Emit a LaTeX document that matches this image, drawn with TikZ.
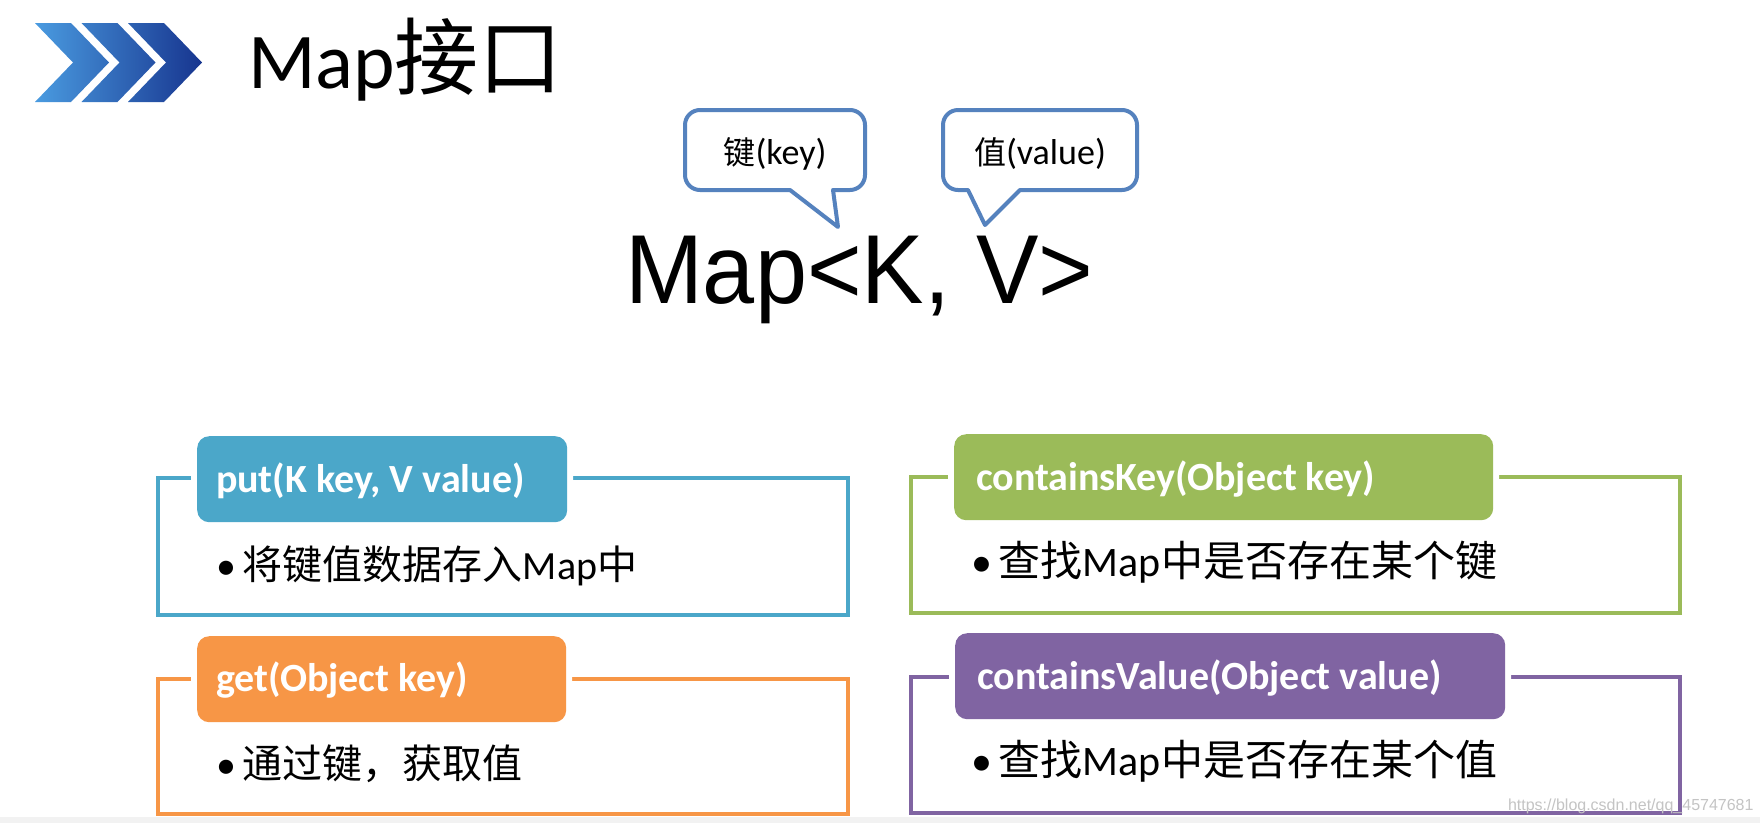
\documentclass[tikz,border=0pt]{standalone}
\usepackage{fontspec}
\usepackage{graphicx}
\setmainfont{Carlito}
\newfontfamily\cjk{Noto Sans CJK SC}
\newfontfamily\arialf{Liberation Sans}
\definecolor{chevL}{HTML}{4A9BE0}
\definecolor{chevR}{HTML}{17358F}
\definecolor{callC}{HTML}{5582BE}
\definecolor{blueC}{HTML}{4BA7C9}
\definecolor{orangeC}{HTML}{F79646}
\definecolor{greenC}{HTML}{9BBB59}
\definecolor{purpleC}{HTML}{8064A2}
\definecolor{markC}{HTML}{C4C4C4}
\tikzset{
  txt/.style={inner sep=0pt, outer sep=0pt},
  callout/.style={draw=callC, line width=4pt, fill=white, line join=round},
  frame/.style={line width=4.5pt},
  headbox/.style={rounded corners=12pt, minimum width=#1, minimum height=86pt, anchor=north west, inner sep=0pt,
     preaction={draw=white, line width=12pt}},
  headtxt/.style={txt, anchor=base west, text=white, font=\bfseries\fontsize{40}{40}\selectfont},
  bodytxt/.style={txt, anchor=base west, text=black}
}
\begin{document}
\begin{tikzpicture}[x=1pt,y=-1pt]
\useasboundingbox (0,0) rectangle (1760,823);
\fill[white] (0,0) rectangle (1760,823);
\fill[black!5] (0,817) rectangle (1760,823);

% chevrons
\shade[left color=chevL, right color=chevR]
  (35,23) -- (71,23) -- (109,62.5) -- (71,102) -- (35,102) -- (73,62.5) -- cycle
  (81.5,23) -- (117.5,23) -- (155.5,62.5) -- (117.5,102) -- (81.5,102) -- (119.5,62.5) -- cycle
  (128,23) -- (164,23) -- (202,62.5) -- (164,102) -- (128,102) -- (166,62.5) -- cycle;

% title
\node[txt, anchor=base west, font=\fontsize{79}{79}\selectfont] (title) at (248,88) {Map{\cjk\fontsize{84}{84}\selectfont 接口}};

% callouts
\draw[callout] (776,110) [rounded corners=15pt] -- (865,110) -- (865,190) [sharp corners] -- (833,190) -- (838,227) -- (790,190) [rounded corners=15pt] -- (685,190) -- (685,110) [sharp corners] -- cycle;
\draw[callout] (1040,110) [rounded corners=15pt] -- (1137,110) -- (1137,190) [sharp corners] -- (1020,190) -- (985,225) -- (968,190) [rounded corners=15pt] -- (943,190) -- (943,110) [sharp corners] -- cycle;
\node[txt, font=\fontsize{36}{36}\selectfont] (keytxt) at (775,154) {{\cjk\fontsize{32}{32}\selectfont 键}(key)};
\node[txt, font=\fontsize{36}{36}\selectfont] (valtxt) at (1040,154) {{\cjk\fontsize{32}{32}\selectfont 值}(value)};

% signature
\node[txt, anchor=base west, font=\arialf\fontsize{98}{98}\selectfont] (sig) at (625,303) {\scalebox{0.955}[1]{Map<K, V>}};

% put box
\draw[frame, draw=blueC] (158,478) rectangle (848,615);
\node[headbox=370pt, fill=blueC] (puthead) at (197,436) {};
\node[headtxt] (putlbl) at (216,492) {put(K key, V value)};
\node[bodytxt, font=\fontsize{40}{40}\selectfont] (putbody) at (216,579) {\textbullet\hspace{7pt}{\cjk 将键值数据存入}Map{\cjk 中}};

% get box
\draw[frame, draw=orangeC] (158,679) rectangle (848,814);
\node[headbox=369pt, fill=orangeC] (gethead) at (197,636) {};
\node[headtxt] (getlbl) at (216,691) {get(Object key)};
\node[bodytxt, font=\fontsize{40}{40}\selectfont] (getbody) at (216,778) {\textbullet\hspace{7pt}{\cjk 通过键，获取值}};

% containsKey box
\draw[frame, draw=greenC] (911,477) rectangle (1680,613);
\node[headbox=539pt, fill=greenC] (ckhead) at (954,434) {};
\node[headtxt] (cklbl) at (976,490) {containsKey(Object key)};
\node[bodytxt, font=\fontsize{42}{42}\selectfont] (ckbody) at (971,576) {\textbullet\hspace{7pt}{\cjk 查找}Map{\cjk 中是否存在某个键}};

% containsValue box
\draw[frame, draw=purpleC] (911,677) rectangle (1680,813);
\node[headbox=550pt, fill=purpleC] (cvhead) at (955,633) {};
\node[headtxt] (cvlbl) at (977,689) {containsValue(Object value)};
\node[bodytxt, font=\fontsize{42}{42}\selectfont] (cvbody) at (971,775) {\textbullet\hspace{7pt}{\cjk 查找}Map{\cjk 中是否存在某个值}};

% watermark
\node[txt, anchor=base west, text=markC, font=\arialf\fontsize{16}{16}\selectfont] (mark) at (1508,810) {https://blog.csdn.net/qq\_45747681};
\end{tikzpicture}
\end{document}
